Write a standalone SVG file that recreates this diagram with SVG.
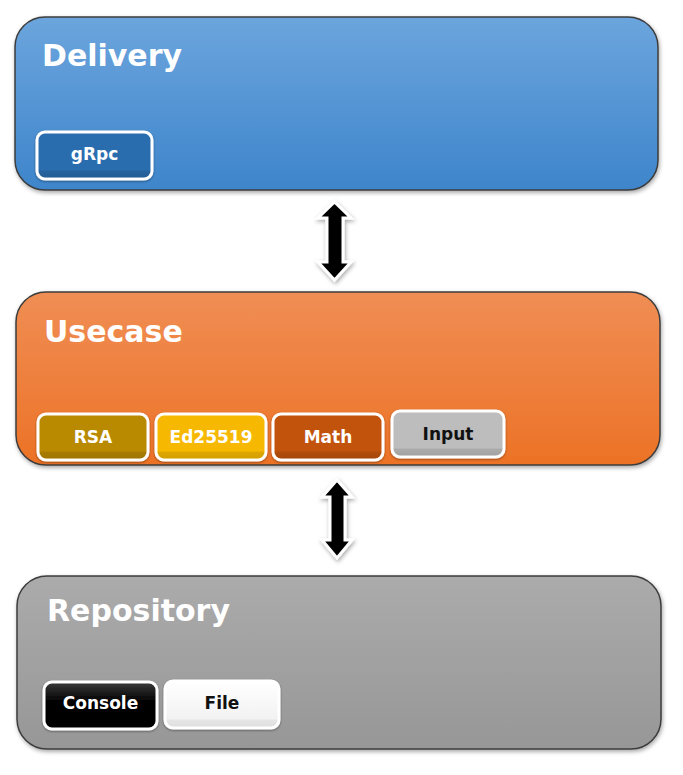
<svg xmlns="http://www.w3.org/2000/svg" width="683" height="775" viewBox="0 0 683 775">
<defs>
<linearGradient id="gBlue" x1="0" y1="0" x2="0" y2="1"><stop offset="0" stop-color="#6ca5dd"/><stop offset="1" stop-color="#3e85cb"/></linearGradient>
<linearGradient id="gOrange" x1="0" y1="0" x2="0" y2="1"><stop offset="0" stop-color="#f08e55"/><stop offset="1" stop-color="#ec7226"/></linearGradient>
<linearGradient id="gGray" x1="0" y1="0" x2="0" y2="1"><stop offset="0" stop-color="#ababab"/><stop offset="1" stop-color="#979797"/></linearGradient>
<linearGradient id="shade" x1="0" y1="0" x2="0" y2="1"><stop offset="0" stop-color="#000" stop-opacity="0"/><stop offset="0.82" stop-color="#000" stop-opacity="0"/><stop offset="0.86" stop-color="#000" stop-opacity="0.1"/><stop offset="1" stop-color="#000" stop-opacity="0.14"/></linearGradient>
<linearGradient id="gConsole" x1="0" y1="0" x2="0" y2="1"><stop offset="0" stop-color="#3a3a3a"/><stop offset="0.4" stop-color="#050505"/><stop offset="1" stop-color="#000"/></linearGradient>
<linearGradient id="gFile" x1="0" y1="0" x2="0" y2="1"><stop offset="0" stop-color="#ffffff"/><stop offset="1" stop-color="#efefef"/></linearGradient>
<filter id="sh" x="-5%" y="-10%" width="110%" height="125%"><feDropShadow dx="1" dy="2" stdDeviation="2" flood-color="#000" flood-opacity="0.35"/></filter>
<filter id="bsh" x="-10%" y="-10%" width="120%" height="130%"><feDropShadow dx="0" dy="1" stdDeviation="1" flood-color="#000" flood-opacity="0.4"/></filter>
<filter id="ash" x="-40%" y="-20%" width="180%" height="140%"><feDropShadow dx="1" dy="2" stdDeviation="2" flood-color="#000" flood-opacity="0.35"/></filter>
</defs>
<style>
.layer{stroke:#3c3c3c;stroke-width:1.5;filter:url(#sh)}
.title{font-family:"DejaVu Sans",Verdana,sans-serif;font-weight:bold;font-size:30px;fill:#fff}
.btn{stroke:#fff;stroke-width:3;filter:url(#bsh)}
.bt{font-family:"DejaVu Sans",Verdana,sans-serif;font-weight:bold;font-size:17px;text-anchor:middle;fill:#fff}
.dk{fill:#111}
.arrow{fill:#000;stroke:#fff;stroke-width:3;stroke-linejoin:miter;filter:url(#ash)}
</style>
<rect width="683" height="775" fill="#fff"/>

<g id="delivery">
<rect class="layer" x="15" y="17" width="643" height="173" rx="30" fill="url(#gBlue)"/>
<text class="title" x="42" y="66">Delivery</text>
<g id="grpc">
<rect class="btn" x="37" y="132" width="115" height="47" rx="8" fill="#2c6daf"/>
<rect x="38.5" y="133.5" width="112" height="44" rx="7" fill="url(#shade)"/>
<text class="bt" x="94.5" y="160">gRpc</text>
</g>
</g>

<g id="usecase">
<rect class="layer" x="16" y="292" width="644" height="173" rx="30" fill="url(#gOrange)"/>
<text class="title" x="44" y="342">Usecase</text>
<g id="rsa">
<rect class="btn" x="38" y="414" width="110" height="46" rx="8" fill="#b98900"/>
<rect x="39.5" y="415.5" width="107" height="43" rx="7" fill="url(#shade)"/>
<text class="bt" x="93" y="443">RSA</text>
</g>
<g id="ed25519">
<rect class="btn" x="156" y="414" width="110" height="46" rx="8" fill="#f6b800"/>
<rect x="157.5" y="415.5" width="107" height="43" rx="7" fill="url(#shade)"/>
<text class="bt" x="211" y="443">Ed25519</text>
</g>
<g id="math">
<rect class="btn" x="273" y="414" width="110" height="46" rx="8" fill="#c2520f"/>
<rect x="274.5" y="415.5" width="107" height="43" rx="7" fill="url(#shade)"/>
<text class="bt" x="328" y="443">Math</text>
</g>
<g id="input">
<rect class="btn" x="392" y="411" width="112" height="46" rx="8" fill="#bdbdbd"/>
<rect x="393.5" y="412.5" width="109" height="43" rx="7" fill="url(#shade)"/>
<text class="bt dk" x="448" y="440">Input</text>
</g>
</g>

<g id="repository">
<rect class="layer" x="17" y="576" width="644" height="173" rx="30" fill="url(#gGray)"/>
<text class="title" x="47" y="621">Repository</text>
<g id="console">
<rect class="btn" x="44" y="682" width="113" height="47" rx="8" fill="url(#gConsole)"/>
<text class="bt" x="100.5" y="709">Console</text>
</g>
<g id="file">
<rect class="btn" x="165" y="681" width="114" height="47" rx="8" fill="url(#gFile)"/>
<rect x="166.5" y="682.5" width="111" height="44" rx="7" fill="url(#shade)" opacity="0.5"/>
<text class="bt dk" x="222" y="709">File</text>
</g>
</g>

<g id="connectors">
<polygon class="arrow" points="334.5,202 318,218 327,218 327,262 318,262 334.5,280 351,262 343,262 343,218 351,218"/>
<polygon class="arrow" points="337,480 322,497 330,497 330,540 322,540 337,558 352,540 345,540 345,497 352,497"/>
</g>
</svg>
